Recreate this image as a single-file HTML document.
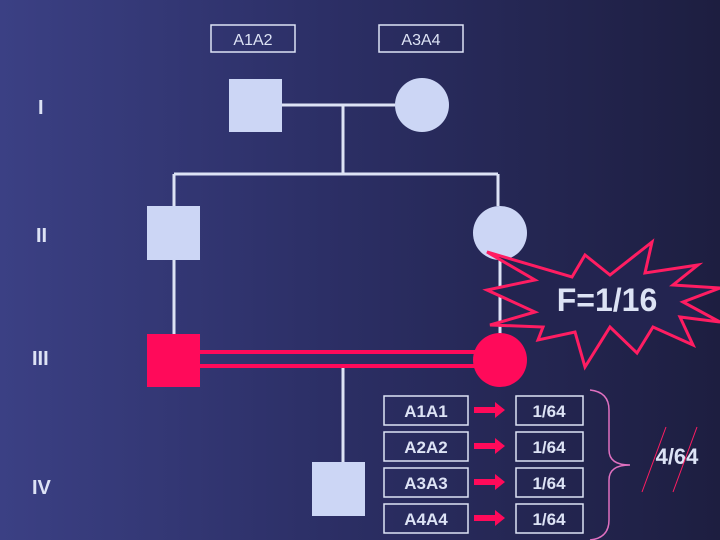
<!DOCTYPE html>
<html><head><style>
body{margin:0;width:720px;height:540px;overflow:hidden;background:linear-gradient(90deg,#3b4084 0%,#2c2f66 45%,#1d1e40 100%);font-family:"Liberation Sans",sans-serif;}
</style></head><body>
<svg width="720" height="540" style="position:absolute;left:0;top:0" font-family="Liberation Sans, sans-serif" font-weight="bold">
<g fill="none" stroke="#dde3f5" stroke-width="1.5">
<rect x="211" y="25" width="84" height="27"/><rect x="379" y="25" width="84" height="27"/>
</g>
<text x="253" y="45" fill="#dde3f5" font-size="16" text-anchor="middle" font-weight="normal">A1A2</text>
<text x="421" y="45" fill="#dde3f5" font-size="16" text-anchor="middle" font-weight="normal">A3A4</text>
<g stroke="#dde3f5" stroke-width="3" fill="none">
<path d="M282 105H395M343 105V174M174 174H498M174 174V206M498 174V206M174 260V334M500 260V334M343 366V462"/>
</g>
<g fill="#ccd6f5">
<rect x="229" y="79" width="53" height="53"/><circle cx="422" cy="105" r="27"/>
<rect x="147" y="206" width="53" height="54"/><circle cx="500" cy="233" r="27"/>
<rect x="312" y="462" width="53" height="54"/>
</g>
<g stroke="#ff0a5a" stroke-width="4"><path d="M200 352H476M200 366H476"/></g>
<rect x="147" y="334" width="53" height="53" fill="#ff0a5a"/>
<circle cx="500" cy="360" r="27" fill="#ff0a5a"/>
<polygon points="487,252 572,277 585,255 610,275 652,242 645,273 698,265 673,285 720,288 683,302 720,322 680,317 693,345 653,327 637,353 610,327 585,367 575,332 538,340 543,327 490,325 535,312 487,290 535,280" fill="#232450" stroke="#ff1d62" stroke-width="3"/>
<text x="607" y="311" fill="#dde3f5" font-size="32" text-anchor="middle">F=1/16</text>
<g fill="#dde3f5" font-size="20">
<text x="38" y="114">I</text><text x="36" y="242">II</text><text x="32" y="365">III</text><text x="32" y="494">IV</text>
</g>
<g fill="none" stroke="#dde3f5" stroke-width="1.5">
<rect x="384" y="396" width="84" height="29"/><rect x="384" y="432" width="84" height="29"/><rect x="384" y="468" width="84" height="29"/><rect x="384" y="504" width="84" height="29"/>
<rect x="516" y="396" width="67" height="29"/><rect x="516" y="432" width="67" height="29"/><rect x="516" y="468" width="67" height="29"/><rect x="516" y="504" width="67" height="29"/>
</g>
<g fill="#dde3f5" font-size="17" text-anchor="middle">
<text x="426" y="417">A1A1</text><text x="426" y="453">A2A2</text><text x="426" y="489">A3A3</text><text x="426" y="525">A4A4</text>
<text x="549" y="417">1/64</text><text x="549" y="453">1/64</text><text x="549" y="489">1/64</text><text x="549" y="525">1/64</text>
</g>
<g fill="#ff0a5a">
<path d="M474 407H495V402L505 410L495 418V413H474Z"/>
<path d="M474 443H495V438L505 446L495 454V449H474Z"/>
<path d="M474 479H495V474L505 482L495 490V485H474Z"/>
<path d="M474 515H495V510L505 518L495 526V521H474Z"/>
</g>
<path d="M590 390Q609 392 609 410V450Q609 465 630 465Q609 465 609 480V520Q609 538 590 540" fill="none" stroke="#e070c0" stroke-width="1.5"/>
<text x="677" y="464" fill="#dde3f5" font-size="22" text-anchor="middle">4/64</text>
<path d="M642 492L666 427M673 492L697 427" stroke="#ff1d62" stroke-width="1"/>
</svg>
</body></html>
